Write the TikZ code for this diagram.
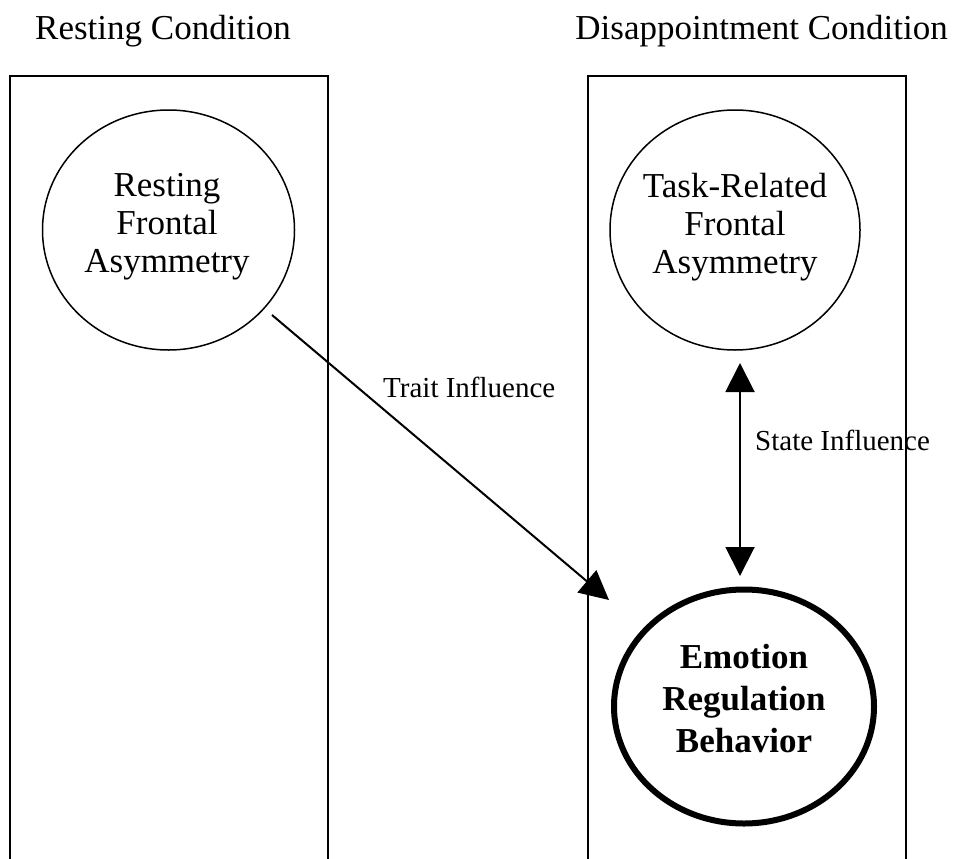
\documentclass[tikz,border=0pt]{standalone}
\usepackage{fontspec}
\setmainfont{Liberation Serif}
\usetikzlibrary{arrows.meta,shapes.geometric}
\begin{document}
\begin{tikzpicture}[x=1pt,y=-1pt,
  panel/.style={draw=black,line width=2pt},
  title/.style={font=\fontsize{35}{38}\selectfont,inner sep=0pt,anchor=base west},
  ell/.style={draw=black,ellipse,line width=1.5pt,inner sep=0pt},
  thickell/.style={draw=black,ellipse,line width=6pt,inner sep=0pt},
  body/.style={font=\fontsize{35}{38}\selectfont,inner sep=0pt,align=center},
  boldbody/.style={font=\fontsize{35}{42}\selectfont\bfseries,inner sep=0pt,align=center},
  small/.style={font=\fontsize{29}{32}\selectfont,inner sep=0pt,anchor=base west},
  conn/.style={line width=2pt,-{Triangle[length=29pt,width=29pt]}},
  dconn/.style={line width=2pt,{Triangle[length=29pt,width=29pt]}-{Triangle[length=29pt,width=29pt]}}]
\fill[white] (0,0) rectangle (953,859);
\useasboundingbox (0,0) rectangle (953,859);
% panels
\draw[panel] (10,859) -- (10,76) -- (328,76) -- (328,859);
\draw[panel] (588,859) -- (588,76) -- (906,76) -- (906,859);
% titles
\node[title] (t1) at (35,40) {Resting Condition};
\node[title,anchor=base east] (t2) at (948,40) {Disappointment Condition};
% ellipses
\node[ell,minimum width=252pt,minimum height=240pt] (rest) at (168.5,230) {};
\node[ell,minimum width=250pt,minimum height=240pt] (task) at (735,230) {};
\node[thickell,minimum width=260pt,minimum height=234pt] (emo) at (744,706.5) {};
\node[body] (restT) at (167,227) {Resting\\Frontal\\Asymmetry};
\node[body] (taskT) at (735,227) {Task-Related\\Frontal\\Asymmetry};
\node[boldbody] (emoT) at (744,699) {Emotion\\Regulation\\Behavior};
% connectors
\coordinate (a1) at (272,315);
\coordinate (a2) at (609,600);
\draw[conn] (a1) -- (a2);
\coordinate (b1) at (740,363);
\coordinate (b2) at (740,576);
\draw[dconn] (b1) -- (b2);
% labels
\node[small] (l1) at (383,397) {Trait Influence};
\node[small] (l2) at (755,450) {State Influence};
\end{tikzpicture}
\end{document}
